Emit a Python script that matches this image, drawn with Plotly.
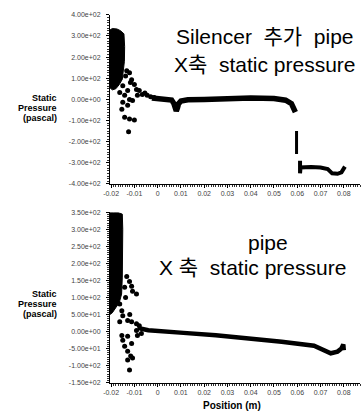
import plotly.graph_objects as go

W, H = 363, 417
FONT = "Arial, 'Liberation Sans', 'Noto Sans CJK KR', sans-serif"

# ---------------- Top chart: Silencer 추가 pipe ----------------
top_block_x = [-0.0205, -0.0195, -0.0175, -0.0160, -0.0145, -0.0142, -0.0143, -0.0148,
               -0.0152, -0.0165, -0.0180, -0.0195, -0.0205]
top_block_y = [328, 335, 333, 325, 310, 250, 180, 130, 95, 70, 50, 45, 55]

top_pts_x = [-0.0133, -0.0121, -0.0112, -0.0100, -0.0091, -0.0079, -0.0066, -0.0045,
             -0.0015, -0.0163, -0.0150, -0.0163, -0.0142, -0.0121, -0.0150, -0.0154,
             -0.0129, -0.0108, -0.0142, -0.0121, -0.0100, -0.0125, -0.0129, -0.0087,
             -0.0138, -0.0117, -0.0030, -0.0055]
top_pts_y = [135, 126, 93, 70, 47, 42, 23, 19, 9, 102, 65, 33, 19, 0, -14, -47,
             -28, -5, -84, -93, -98, -153, 42, 19, 110, 80, 12, 30]

top_line1_x = [-0.0025, 0.0000, 0.0030, 0.0060, 0.0070, 0.0075, 0.0080, 0.0085,
               0.0090, 0.0100, 0.0130, 0.0200, 0.0300, 0.0400, 0.0500, 0.0550,
               0.0575, 0.0585, 0.0592]
top_line1_y = [6, 3, 0, -3, -20, -50, -55, -40, -20, -8, -2, -1, 3, 6, 4, -4,
               -20, -45, -60]

top_step_x = [0.0597, 0.0597]
top_step_y = [-150, -258]

top_line2_x = [0.0612, 0.0612, 0.0614, 0.0660, 0.0700, 0.0731, 0.0750, 0.0773,
               0.0790, 0.0805]
top_line2_y = [-290, -350, -322, -320, -322, -330, -350, -352, -345, -318]

top_yticks = [-400, -300, -200, -100, 0, 100, 200, 300, 400]
top_yticktext = ["-4.00e+02", "-3.00e+02", "-2.00e+02", "-1.00e+02", "0.00e+00",
                 "1.00e+02", "2.00e+02", "3.00e+02", "4.00e+02"]

# ---------------- Bottom chart: pipe ----------------
bot_block_x = [-0.0205, -0.0190, -0.0170, -0.0152, -0.0150, -0.0150, -0.0152,
               -0.0155, -0.0165, -0.0180, -0.0195, -0.0205]
bot_block_y = [350, 352, 350, 345, 300, 230, 160, 110, 85, 70, 55, 50]

bot_pts_x = [-0.0133, -0.0121, -0.0112, -0.0108, -0.0091, -0.0142, -0.0163, -0.0154,
             -0.0150, -0.0129, -0.0112, -0.0091, -0.0079, -0.0163, -0.0154, -0.0129,
             -0.0150, -0.0112, -0.0142, -0.0087, -0.0091, -0.0129, -0.0116, -0.0108,
             -0.0129, -0.0121, -0.0070, -0.0138, -0.0120]
bot_pts_y = [162, 147, 133, 118, 110, 130, 81, 61, 46, 32, 29, 23, 17, 29, -12, -14,
             -26, -35, -43, -12, 3, -58, -72, -78, -84, -113, -6, 100, 50]

bot_line_x = [-0.0085, -0.0070, -0.0040, 0.0000, 0.0050, 0.0111, 0.0250, 0.0394,
              0.0533, 0.0672, 0.0714, 0.0744, 0.0773, 0.0790, 0.0798, 0.0800]
bot_line_y = [12, 8, 4, 1, -1, -4, -11, -20, -30, -42, -54, -64, -59, -50, -38, -55]

bot_yticks = [-150, -100, -50, 0, 50, 100, 150, 200, 250, 300, 350]
bot_yticktext = ["-1.50e+02", "-1.00e+02", "-5.00e+01", "0.00e+00", "5.00e+01",
                 "1.00e+02", "1.50e+02", "2.00e+02", "2.50e+02", "3.00e+02", "3.50e+02"]

xticks = [-0.02, -0.01, 0, 0.01, 0.02, 0.03, 0.04, 0.05, 0.06, 0.07, 0.08]
xticktext = ["-0.02", "-0.01", "0", "0.01", "0.02", "0.03", "0.04", "0.05",
             "0.06", "0.07", "0.08"]


def px_x(p):
    return p / W


def px_y(p):
    return 1 - p / H


fig = go.Figure()

for xa, ya, bx, by, px_, py_ in [("x", "y", top_block_x, top_block_y, top_pts_x, top_pts_y),
                                 ("x2", "y2", bot_block_x, bot_block_y, bot_pts_x, bot_pts_y)]:
    fig.add_trace(go.Scatter(x=bx, y=by, xaxis=xa, yaxis=ya, mode="lines", fill="toself",
                             fillcolor="black", line=dict(color="black", width=1),
                             hoverinfo="skip"))
    fig.add_trace(go.Scatter(x=px_, y=py_, xaxis=xa, yaxis=ya, mode="markers",
                             marker=dict(color="black", size=5)))

fig.add_trace(go.Scatter(x=top_line1_x, y=top_line1_y, xaxis="x", yaxis="y", mode="lines",
                         line=dict(color="black", width=5.5)))
fig.add_trace(go.Scatter(x=top_step_x, y=top_step_y, xaxis="x", yaxis="y", mode="lines",
                         line=dict(color="black", width=3)))
fig.add_trace(go.Scatter(x=top_line2_x, y=top_line2_y, xaxis="x", yaxis="y", mode="lines",
                         line=dict(color="black", width=4)))
fig.add_trace(go.Scatter(x=bot_line_x, y=bot_line_y, xaxis="x2", yaxis="y2", mode="lines",
                         line=dict(color="black", width=4.5)))

xdom = [px_x(105), px_x(360)]
tickfont = dict(family=FONT, size=7, color="#444")

xcommon = dict(range=[-0.0205, 0.087], domain=xdom, tickvals=xticks, ticktext=xticktext,
               showline=True, linecolor="black", linewidth=1, ticks="outside", ticklen=3,
               tickcolor="black", tickfont=tickfont, showgrid=False, zeroline=False,
               ticklabelstandoff=0,
               minor=dict(ticks="outside", ticklen=2, dtick=0.001, tickcolor="#333"))
ycommon = dict(showline=True, linecolor="black", linewidth=1, ticks="outside", ticklen=3,
               tickcolor="black", tickfont=tickfont, showgrid=False, zeroline=False,
               ticklabelstandoff=4)

fig.update_layout(
    width=W, height=H, margin=dict(l=0, r=0, t=0, b=0),
    paper_bgcolor="white", plot_bgcolor="white", showlegend=False,
    xaxis=dict(**xcommon, anchor="y"),
    yaxis=dict(**ycommon, range=[-400, 400], domain=[px_y(183), px_y(11)],
               tickvals=top_yticks, ticktext=top_yticktext, anchor="x",
               minor=dict(ticks="outside", ticklen=2, dtick=12.5, tickcolor="#333")),
    xaxis2=dict(**xcommon, anchor="y2"),
    yaxis2=dict(**ycommon, range=[-150, 350], domain=[px_y(385), px_y(212)],
                tickvals=bot_yticks, ticktext=bot_yticktext, anchor="x2",
                minor=dict(ticks="outside", ticklen=2, dtick=6.25, tickcolor="#333")),
)

anns = [
    ("Silencer\u00a0 추가\u00a0 pipe", 263, 33, 21, False, "center"),
    ("X축\u00a0 static pressure", 263, 62, 21, False, "center"),
    ("pipe", 266, 243, 21, False, "center"),
    ("X 축\u00a0 static pressure", 250, 268, 21, False, "center"),
    ("Static", 53, 96, 9, True, "right"),
    ("Pressure", 53, 106, 9, True, "right"),
    ("(pascal)", 53, 116, 9, True, "right"),
    ("Static", 53, 295, 9, True, "right"),
    ("Pressure", 53, 305, 9, True, "right"),
    ("(pascal)", 53, 315, 9, True, "right"),
    ("Position (m)", 229, 408, 10, True, "center"),
]
for text, x, y, size, bold, anchor in anns:
    fig.add_annotation(text=f"<b>{text}</b>" if bold else text, x=px_x(x), y=px_y(y),
                       xref="paper", yref="paper", xanchor=anchor, yanchor="middle",
                       showarrow=False, font=dict(family=FONT, size=size, color="black"))

fig.write_html("out.html")
